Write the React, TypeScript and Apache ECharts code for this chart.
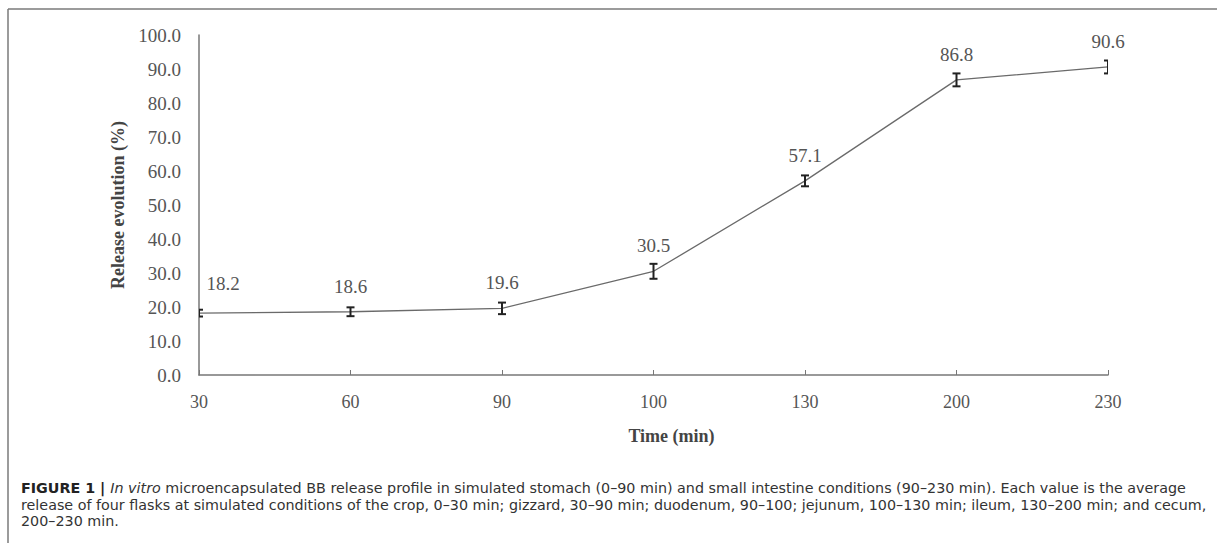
import React, { useEffect, useRef } from "react";
import * as echarts from "echarts";

const categories = ["30", "60", "90", "100", "130", "200", "230"];
const releaseValues = [18.2, 18.6, 19.6, 30.5, 57.1, 86.8, 90.6];
const errorValues = [1.0, 1.3, 1.7, 2.2, 1.6, 1.9, 1.9];
const yTicks = { min: 0, max: 100, interval: 10 };

const captionLine1Rest =
  " microencapsulated BB release profile in simulated stomach (0–90 min) and small intestine conditions (90–230 min). Each value is the average";
const captionLine2 =
  "release of four flasks at simulated conditions of the crop, 0–30 min; gizzard, 30–90 min; duodenum, 90–100; jejunum, 100–130 min; ileum, 130–200 min; and cecum,";
const captionLine3 = "200–230 min.";

const SERIF = "'Liberation Serif', 'DejaVu Serif', serif";
const SANS = "'DejaVu Sans', 'Liberation Sans', Arial, sans-serif";
const CAP_SIZE = 14.3;

export default function App() {
  const ref = useRef<HTMLDivElement>(null);
  useEffect(() => {
    if (!ref.current) return;
    const chart = echarts.init(ref.current, null, { renderer: "svg" });
    const lineData = releaseValues.map((v, i) =>
      i === 0
        ? { value: v, label: { show: true, padding: [0, 0, 4, 48] } }
        : { value: v }
    );
    const errData = releaseValues.map((v, i) => [i, v - errorValues[i], v + errorValues[i]]);
    chart.setOption({
      animation: false,
      backgroundColor: "#ffffff",
      grid: { left: 199, right: 109, top: 35, bottom: 168 },
      xAxis: {
        type: "category",
        data: categories,
        boundaryGap: false,
        name: "Time (min)",
        nameLocation: "middle",
        nameGap: 52,
        nameTextStyle: {
          fontFamily: SERIF,
          fontWeight: "bold",
          fontSize: 18,
          color: "#444",
          padding: [0, 0, 0, 36],
        },
        axisLine: { lineStyle: { color: "#777", width: 1.5 } },
        axisTick: { show: true, inside: true, length: 5, lineStyle: { color: "#777" } },
        axisLabel: { margin: 18, color: "#555", fontFamily: SERIF, fontSize: 18 },
        splitLine: { show: false },
      },
      yAxis: {
        type: "value",
        min: yTicks.min,
        max: yTicks.max,
        interval: yTicks.interval,
        name: "Release evolution (%)",
        nameLocation: "middle",
        nameGap: 72,
        nameTextStyle: { fontFamily: SERIF, fontWeight: "bold", fontSize: 18, color: "#444" },
        axisLine: { show: true, lineStyle: { color: "#777", width: 1.5 } },
        axisTick: { show: false },
        axisLabel: {
          margin: 18,
          color: "#555",
          fontFamily: SERIF,
          fontSize: 19,
          formatter: (v: number) => v.toFixed(1),
        },
        splitLine: { show: false },
      },
      series: [
        {
          type: "line",
          data: lineData,
          symbol: "circle",
          symbolSize: 2,
          showSymbol: true,
          itemStyle: { color: "rgba(0,0,0,0)", borderWidth: 0 },
          lineStyle: { color: "#6a6a6a", width: 1.3 },
          label: {
            show: true,
            position: "top",
            distance: 15,
            color: "#555",
            fontFamily: SERIF,
            fontSize: 19,
            formatter: (p: any) => Number(p.value).toFixed(1),
          },
          labelLayout: { hideOverlap: false },
          z: 2,
        },
        {
          type: "custom",
          clip: true,
          data: errData,
          renderItem: (params: any, api: any) => {
            const x = api.value(0);
            const lo = api.coord([x, api.value(1)]);
            const hi = api.coord([x, api.value(2)]);
            const w = 4;
            const style = { stroke: "#222", lineWidth: 2, fill: "none" };
            return {
              type: "group",
              children: [
                { type: "line", shape: { x1: lo[0], y1: lo[1], x2: hi[0], y2: hi[1] }, style },
                { type: "line", shape: { x1: lo[0] - w, y1: lo[1], x2: lo[0] + w, y2: lo[1] }, style },
                { type: "line", shape: { x1: hi[0] - w, y1: hi[1], x2: hi[0] + w, y2: hi[1] }, style },
              ],
            };
          },
          z: 3,
        },
      ],
      graphic: [
        { type: "line", shape: { x1: 8, y1: 9, x2: 1217, y2: 9 }, style: { stroke: "#7a7a7a", lineWidth: 1.5 } },
        { type: "line", shape: { x1: 8, y1: 9, x2: 8, y2: 543 }, style: { stroke: "#7a7a7a", lineWidth: 1.5 } },
        {
          type: "text",
          left: 21,
          top: 481,
          style: {
            text: "{b|FIGURE 1 | }{i|In vitro}{n|" + captionLine1Rest + "}",
            rich: {
              b: { fontFamily: SANS, fontWeight: "bold", fontSize: CAP_SIZE, lineHeight: 15, fill: "#222" },
              i: { fontFamily: SANS, fontStyle: "italic", fontSize: CAP_SIZE, lineHeight: 15, fill: "#333" },
              n: { fontFamily: SANS, fontSize: CAP_SIZE, lineHeight: 15, fill: "#333" },
            },
          },
        },
        {
          type: "text",
          left: 21,
          top: 497,
          style: { text: captionLine2, fontFamily: SANS, fontSize: CAP_SIZE, lineHeight: 15, fill: "#333" },
        },
        {
          type: "text",
          left: 21,
          top: 513,
          style: { text: captionLine3, fontFamily: SANS, fontSize: CAP_SIZE, lineHeight: 15, fill: "#333" },
        },
      ],
    });
    return () => chart.dispose();
  }, []);
  return (
    <div
      ref={ref}
      style={{ position: "fixed", left: 0, top: 0, width: 1217, height: 543, background: "#fff" }}
    />
  );
}
